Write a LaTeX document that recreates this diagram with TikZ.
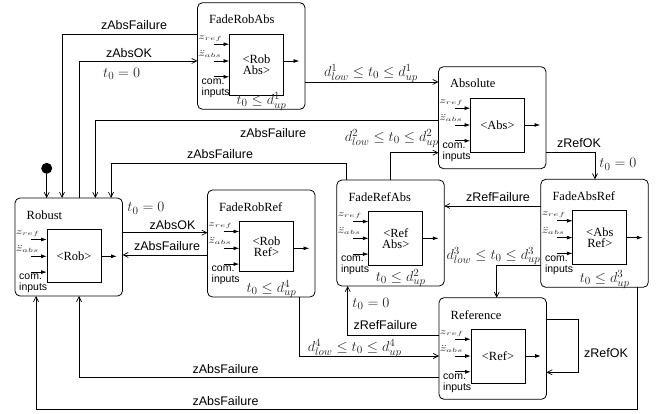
\documentclass[tikz,border=0pt]{standalone}
\usepackage{fontspec}
\setmainfont{Liberation Serif}
\setsansfont{Liberation Sans}
\usepackage{graphicx}
\usetikzlibrary{arrows.meta,calc}
\tikzset{
  outerbox/.style={draw, line width=0.8pt, rounded corners=5pt, minimum width=107.5pt, inner sep=0pt, outer sep=0pt},
  innerbox/.style={draw, line width=0.8pt, minimum width=54pt, inner sep=0pt, outer sep=0pt, align=center, font=\fontsize{12.5}{11}\selectfont},
  titletext/.style={font=\fontsize{12.5}{14}\selectfont, inner sep=0pt},
  inarrow/.style={line width=0.9pt, -{Latex[length=6pt,width=4pt]}},
  tr/.style={line width=0.7pt, -{Straight Barb[length=5pt,width=5pt]}},
  lbl/.style={font=\sffamily\fontsize{12.5}{14}\selectfont, inner sep=0pt},
  mlbl/.style={font=\fontsize{15}{16}\selectfont, inner sep=0pt, text=black!85},
  sig/.style={font=\fontsize{9}{9}\selectfont, inner sep=0pt, text=black!80},
  cin/.style={font=\sffamily\fontsize{10.5}{11}\selectfont, inner sep=0pt, align=left},
}
% #1 name, #2 left, #3 top, #4 height, #5 title, #6 inner text, #7 inner height, #8 condition
\newcommand\mkstate[8]{%
  \node[outerbox, minimum height=#4pt, anchor=north west] (#1) at (#2,#3) {};
  \node[titletext, anchor=west] (#1-t) at ([xshift=11.5pt,yshift=-17pt]#1.north west) {#5};
  \node[innerbox, minimum height=#7pt, anchor=north west] (#1-in) at ([xshift=32pt,yshift=-31.5pt]#1.north west) {#6};
  \coordinate (#1-a) at ([yshift=-10pt]#1-in.north west);
  \coordinate (#1-b) at ([yshift=-26.8pt]#1-in.north west);
  \coordinate (#1-c) at ([yshift=-42.6pt]#1-in.north west);
  \coordinate (#1-o) at ([yshift=-26.8pt]#1-in.north east);
  \draw[inarrow] ([xshift=-16pt]#1-a) -- (#1-a);
  \draw[inarrow] ([xshift=-16pt]#1-b) -- (#1-b);
  \draw[inarrow] ([xshift=-16pt]#1-c) -- (#1-c);
  \draw[inarrow] (#1-o) -- ([xshift=16pt]#1-o);
  \node[sig, anchor=west] (#1-zr) at ($(#1.west |- #1-a)+(0.5,-6)$) {\scalebox{1.5}[1]{$z_{ref}$}};
  \node[sig, anchor=west] (#1-za) at ($(#1.west |- #1-b)+(0.5,-7)$) {\scalebox{1.5}[1]{$\ddot{z}_{abs}$}};
  \node[cin, anchor=north west] (#1-ci) at ($(#1.west |- #1-c)+(4,2)$) {com.\\inputs};
  \if\relax\detokenize{#8}\relax\else
    \node[mlbl] (#1-cond) at ($(#1-in.center |- #1.south)+(5,-8)$) {#8};
  \fi
}
\begin{document}
\begin{tikzpicture}[x=1pt,y=-1pt]
\useasboundingbox (0,0) rectangle (670,414);

\mkstate{robust}{15}{198}{98}{Robust}{\textless Rob\textgreater}{53}{}
\mkstate{frr}{207.5}{190}{107}{FadeRobRef}{\textless Rob\\Ref\textgreater}{50}{$t_0\leq d^4_{up}$}
\mkstate{fraabs}{197.5}{2.7}{106.6}{FadeRobAbs}{\textless Rob\\Abs\textgreater}{61}{$t_0\leq d^1_{up}$}
\mkstate{absolute}{438.5}{66.7}{102}{Absolute}{\textless Abs\textgreater}{54}{}
\mkstate{far}{540.8}{179.3}{108}{FadeAbsRef}{\textless Abs\\Ref\textgreater}{54}{$t_0\leq d^3_{up}$}
\mkstate{fra}{336.8}{180}{106}{FadeRefAbs}{\textless Ref\\Abs\textgreater}{54}{$t_0\leq d^2_{up}$}
\mkstate{reference}{439}{297.7}{101.6}{Reference}{\textless Ref\textgreater}{54}{}

% initial state
\node[circle, fill, minimum size=11pt, inner sep=0pt] (init) at (46.7,168.3) {};
\draw[tr] (init) -- (init |- robust.north);

% FadeRobAbs -> Robust
\draw[tr] (fraabs.west |- 0,34.7) -- (62,34.7) -- (robust.north -| 62,0);
\node[lbl] (l1) at (134,25) {zAbsFailure};
% Robust -> FadeRobAbs
\draw[tr] (robust.north -| 79,0) -- (79,61) -- (fraabs.west |- 0,61);
\node[lbl] (l2) at (129,53.3) {zAbsOK};
\node[mlbl] (l3) at (121.7,74) {$t_0=0$};
% FadeRobAbs -> Absolute
\draw[tr] (fraabs.east |- 0,82) -- (absolute.west |- 0,82);
\node[mlbl] (l4) at (371,73.5) {$d^1_{low}\leq t_0\leq d^1_{up}$};
% Absolute -> Robust
\draw[tr] (absolute.west |- 0,120.7) -- (95.3,120.7) -- (robust.north -| 95.3,0);
\node[lbl] (l5) at (273,133) {zAbsFailure};
% FadeRefAbs -> Robust
\draw[tr] (fra.north -| 346.7,0) -- (346.7,163.3) -- (111,163.3) -- (robust.north -| 111,0);
\node[lbl] (l6) at (220,154) {zAbsFailure};
% FadeRefAbs -> Absolute
\draw[tr] (fra.north -| 390.7,0) -- (390.7,152.7) -- (absolute.west |- 0,152.7);
\node[mlbl] (l7) at (391.7,138.3) {$d^2_{low}\leq t_0\leq d^2_{up}$};
% Absolute -> FadeAbsRef
\draw[tr] (absolute.east |- 0,152.7) -- (595,152.7) -- (far.north -| 595,0);
\node[lbl] (l8) at (579,142.7) {zRefOK};
\node[mlbl] (l9) at (618,164.3) {$t_0=0$};
% FadeAbsRef -> FadeRefAbs
\draw[tr] (far.west |- 0,206) -- (fra.east |- 0,206);
\node[lbl] (l10) at (498,196.7) {zRefFailure};
% FadeAbsRef -> Reference
\draw[tr] (far.west |- 0,265) -- (496.7,265) -- (reference.north -| 496.7,0);
\node[mlbl] (l11) at (493.5,256) {$d^3_{low}\leq t_0\leq d^3_{up}$};
% FadeAbsRef -> Robust
\draw[tr] (far.south -| 637.3,0) -- (637.3,409.5) -- (36,409.5) -- (robust.south -| 36,0);
\node[lbl] (l12) at (225.5,400.7) {zAbsFailure};
% Reference -> Robust
\draw[tr] (reference.west |- 0,377.5) -- (79,377.5) -- (robust.south -| 79,0);
\node[lbl] (l13) at (225.5,369) {zAbsFailure};
% FadeRobRef -> Reference
\draw[tr] (frr.south -| 299,0) -- (299,356) -- (reference.west |- 0,356);
\node[mlbl] (l14) at (354.7,348.3) {$d^4_{low}\leq t_0\leq d^4_{up}$};
% Reference -> FadeRefAbs
\draw[tr] (reference.west |- 0,335) -- (347.7,335) -- (fra.south -| 347.7,0);
\node[mlbl] (l15) at (371,304) {$t_0=0$};
\node[lbl] (l16) at (385.5,325) {zRefFailure};
% Reference self loop
\draw[tr] (reference.east |- 0,319.3) -- (578.3,319.3) -- (578.3,372.3) -- (reference.east |- 0,372.3);
\node[lbl] (l17) at (606,352.7) {zRefOK};
% Robust <-> FadeRobRef
\draw[tr] (robust.east |- 0,232.7) -- (frr.west |- 0,232.7);
\node[lbl] (l18) at (172.5,225) {zAbsOK};
\node[mlbl] (l19) at (146,208.3) {$t_0=0$};
\draw[tr] (frr.west |- 0,255) -- (robust.east |- 0,255);
\node[lbl] (l20) at (167,245.7) {zAbsFailure};
\end{tikzpicture}
\end{document}
